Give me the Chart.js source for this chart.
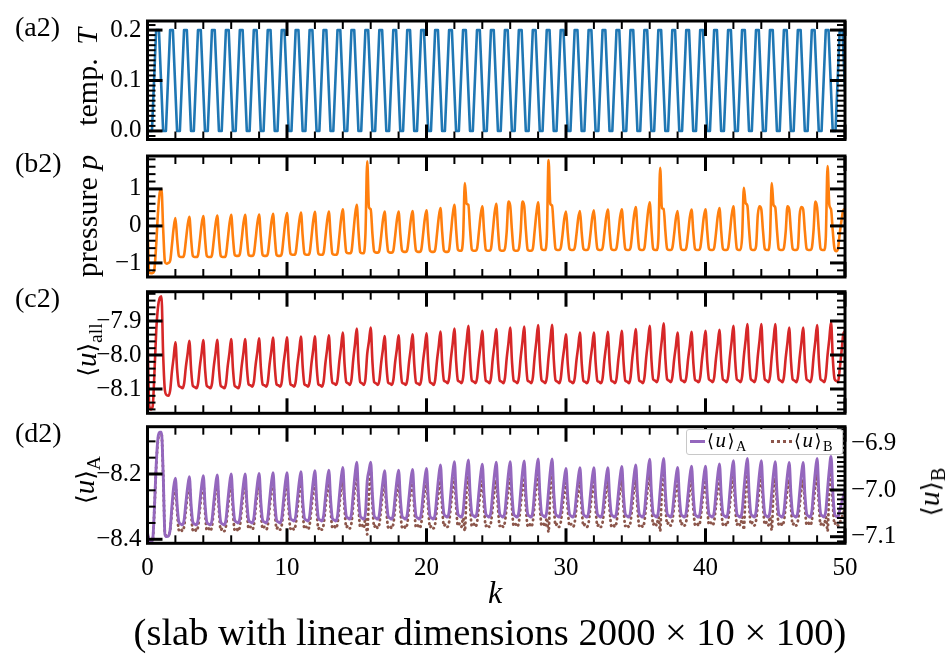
<!DOCTYPE html>
<html><head><meta charset="utf-8">
<script src="https://cdn.jsdelivr.net/npm/chart.js@4/dist/chart.umd.min.js"></script>
<style>
html,body{margin:0;padding:0;background:#fff;}
#wrap{position:relative;width:945px;height:654px;overflow:hidden;font-family:"Liberation Serif","DejaVu Serif",serif;color:#000;}
canvas{position:absolute;left:0;top:0;}
.lbl{position:absolute;white-space:nowrap;line-height:1.2;}
.c{transform:translate(-50%,-50%);}
.rot{transform:translate(-50%,-50%) rotate(-90deg);}
.sb{font-size:0.68em;position:relative;top:0.3em;}
.br{font-family:"DejaVu Serif",serif;font-size:0.85em;}
#leg{position:absolute;left:686px;top:429px;width:157px;height:26px;border:1px solid #c8c8c8;background:#fff;border-radius:3px;box-sizing:border-box;font-size:21px;}
#leg .s1{position:absolute;left:3px;top:10px;width:15px;border-top:3px solid #9467bd;}
#leg .s2{position:absolute;left:84px;top:10px;width:21px;border-top:3px dotted #8c564b;}
#leg .t{position:absolute;top:-2px;white-space:nowrap;line-height:1.2;letter-spacing:1.5px;}
</style></head><body>
<div id="wrap">
<canvas id="ca" width="945" height="654"></canvas>
<canvas id="cb" width="945" height="654"></canvas>
<canvas id="cc" width="945" height="654"></canvas>
<canvas id="cd" width="945" height="654"></canvas>
<div class="lbl" style="left:15px;top:10px;font-size:28px;">(a2)</div>
<div class="lbl" style="left:15px;top:146px;font-size:28px;">(b2)</div>
<div class="lbl" style="left:15px;top:281px;font-size:28px;">(c2)</div>
<div class="lbl" style="left:15px;top:416px;font-size:28px;">(d2)</div>
<div class="lbl rot" style="left:87px;top:77px;font-size:30px;">temp. &thinsp;<i>T</i></div>
<div class="lbl rot" style="left:87px;top:216px;font-size:30px;">pressure <i>p</i></div>
<div class="lbl rot" style="left:86px;top:350px;font-size:29px;"><span class="br">⟨</span><i>u</i><span class="br">⟩</span><span class="sb">all</span></div>
<div class="lbl rot" style="left:84px;top:480px;font-size:29px;"><span class="br">⟨</span><i>u</i><span class="br">⟩</span><span class="sb">A</span></div>
<div class="lbl rot" style="left:929px;top:492px;font-size:30px;"><span class="br">⟨</span><i>u</i><span class="br">⟩</span><span class="sb">B</span></div>
<div class="lbl c" style="left:495px;top:592px;font-size:32px;"><i>k</i></div>
<div id="cap" class="lbl c" style="left:490px;top:632px;font-size:38.5px;">(slab with linear dimensions 2000 × 10 × 100)</div>
<div id="leg">
  <div class="s1"></div><div class="t" style="left:20px;"><span class="br">⟨</span><i>u</i><span class="br">⟩</span><span class="sb">A</span></div>
  <div class="s2"></div><div class="t" style="left:107px;"><span class="br">⟨</span><i>u</i><span class="br">⟩</span><span class="sb">B</span></div>
</div>
</div>
<script>
// ---------------- data ----------------
const k = [
0,0.125,0.25,0.375,0.5,0.625,0.75,0.875,
1,1.125,1.25,1.375,1.5,1.625,1.75,1.875,
2,2.125,2.25,2.375,2.5,2.625,2.75,2.875,
3,3.125,3.25,3.375,3.5,3.625,3.75,3.875,
4,4.125,4.25,4.375,4.5,4.625,4.75,4.875,
5,5.125,5.25,5.375,5.5,5.625,5.75,5.875,
6,6.125,6.25,6.375,6.5,6.625,6.75,6.875,
7,7.125,7.25,7.375,7.5,7.625,7.75,7.875,
8,8.125,8.25,8.375,8.5,8.625,8.75,8.875,
9,9.125,9.25,9.375,9.5,9.625,9.75,9.875,
10,10.125,10.25,10.375,10.5,10.625,10.75,10.875,
11,11.125,11.25,11.375,11.5,11.625,11.75,11.875,
12,12.125,12.25,12.375,12.5,12.625,12.75,12.875,
13,13.125,13.25,13.375,13.5,13.625,13.75,13.875,
14,14.125,14.25,14.375,14.5,14.625,14.75,14.875,
15,15.125,15.25,15.375,15.5,15.625,15.75,15.875,
16,16.125,16.25,16.375,16.5,16.625,16.75,16.875,
17,17.125,17.25,17.375,17.5,17.625,17.75,17.875,
18,18.125,18.25,18.375,18.5,18.625,18.75,18.875,
19,19.125,19.25,19.375,19.5,19.625,19.75,19.875,
20,20.125,20.25,20.375,20.5,20.625,20.75,20.875,
21,21.125,21.25,21.375,21.5,21.625,21.75,21.875,
22,22.125,22.25,22.375,22.5,22.625,22.75,22.875,
23,23.125,23.25,23.375,23.5,23.625,23.75,23.875,
24,24.125,24.25,24.375,24.5,24.625,24.75,24.875,
25,25.125,25.25,25.375,25.5,25.625,25.75,25.875,
26,26.125,26.25,26.375,26.5,26.625,26.75,26.875,
27,27.125,27.25,27.375,27.5,27.625,27.75,27.875,
28,28.125,28.25,28.375,28.5,28.625,28.75,28.875,
29,29.125,29.25,29.375,29.5,29.625,29.75,29.875,
30,30.125,30.25,30.375,30.5,30.625,30.75,30.875,
31,31.125,31.25,31.375,31.5,31.625,31.75,31.875,
32,32.125,32.25,32.375,32.5,32.625,32.75,32.875,
33,33.125,33.25,33.375,33.5,33.625,33.75,33.875,
34,34.125,34.25,34.375,34.5,34.625,34.75,34.875,
35,35.125,35.25,35.375,35.5,35.625,35.75,35.875,
36,36.125,36.25,36.375,36.5,36.625,36.75,36.875,
37,37.125,37.25,37.375,37.5,37.625,37.75,37.875,
38,38.125,38.25,38.375,38.5,38.625,38.75,38.875,
39,39.125,39.25,39.375,39.5,39.625,39.75,39.875,
40,40.125,40.25,40.375,40.5,40.625,40.75,40.875,
41,41.125,41.25,41.375,41.5,41.625,41.75,41.875,
42,42.125,42.25,42.375,42.5,42.625,42.75,42.875,
43,43.125,43.25,43.375,43.5,43.625,43.75,43.875,
44,44.125,44.25,44.375,44.5,44.625,44.75,44.875,
45,45.125,45.25,45.375,45.5,45.625,45.75,45.875,
46,46.125,46.25,46.375,46.5,46.625,46.75,46.875,
47,47.125,47.25,47.375,47.5,47.625,47.75,47.875,
48,48.125,48.25,48.375,48.5,48.625,48.75,48.875,
49,49.125,49.25,49.375,49.5,49.625,49.75,49.875,
50];

// temperature corners (k, T)
const kT = [0,
0.12,0.32,0.62,0.82, 1.12,1.32,1.62,1.82, 2.12,2.32,2.62,2.82, 3.12,3.32,3.62,3.82, 4.12,4.32,4.62,4.82,
5.12,5.32,5.62,5.82, 6.12,6.32,6.62,6.82, 7.12,7.32,7.62,7.82, 8.12,8.32,8.62,8.82, 9.12,9.32,9.62,9.82,
10.12,10.32,10.62,10.82, 11.12,11.32,11.62,11.82, 12.12,12.32,12.62,12.82, 13.12,13.32,13.62,13.82, 14.12,14.32,14.62,14.82,
15.12,15.32,15.62,15.82, 16.12,16.32,16.62,16.82, 17.12,17.32,17.62,17.82, 18.12,18.32,18.62,18.82, 19.12,19.32,19.62,19.82,
20.12,20.32,20.62,20.82, 21.12,21.32,21.62,21.82, 22.12,22.32,22.62,22.82, 23.12,23.32,23.62,23.82, 24.12,24.32,24.62,24.82,
25.12,25.32,25.62,25.82, 26.12,26.32,26.62,26.82, 27.12,27.32,27.62,27.82, 28.12,28.32,28.62,28.82, 29.12,29.32,29.62,29.82,
30.12,30.32,30.62,30.82, 31.12,31.32,31.62,31.82, 32.12,32.32,32.62,32.82, 33.12,33.32,33.62,33.82, 34.12,34.32,34.62,34.82,
35.12,35.32,35.62,35.82, 36.12,36.32,36.62,36.82, 37.12,37.32,37.62,37.82, 38.12,38.32,38.62,38.82, 39.12,39.32,39.62,39.82,
40.12,40.32,40.62,40.82, 41.12,41.32,41.62,41.82, 42.12,42.32,42.62,42.82, 43.12,43.32,43.62,43.82, 44.12,44.32,44.62,44.82,
45.12,45.32,45.62,45.82, 46.12,46.32,46.62,46.82, 47.12,47.32,47.62,47.82, 48.12,48.32,48.62,48.82, 49.12,49.32,49.62,49.82,
50];
const T = [0,
0,0,0.2,0.2, 0,0,0.2,0.2, 0,0,0.2,0.2, 0,0,0.2,0.2, 0,0,0.2,0.2,
0,0,0.2,0.2, 0,0,0.2,0.2, 0,0,0.2,0.2, 0,0,0.2,0.2, 0,0,0.2,0.2,
0,0,0.2,0.2, 0,0,0.2,0.2, 0,0,0.2,0.2, 0,0,0.2,0.2, 0,0,0.2,0.2,
0,0,0.2,0.2, 0,0,0.2,0.2, 0,0,0.2,0.2, 0,0,0.2,0.2, 0,0,0.2,0.2,
0,0,0.2,0.2, 0,0,0.2,0.2, 0,0,0.2,0.2, 0,0,0.2,0.2, 0,0,0.2,0.2,
0,0,0.2,0.2, 0,0,0.2,0.2, 0,0,0.2,0.2, 0,0,0.2,0.2, 0,0,0.2,0.2,
0,0,0.2,0.2, 0,0,0.2,0.2, 0,0,0.2,0.2, 0,0,0.2,0.2, 0,0,0.2,0.2,
0,0,0.2,0.2, 0,0,0.2,0.2, 0,0,0.2,0.2, 0,0,0.2,0.2, 0,0,0.2,0.2,
0,0,0.2,0.2, 0,0,0.2,0.2, 0,0,0.2,0.2, 0,0,0.2,0.2, 0,0,0.2,0.2,
0,0,0.2,0.2, 0,0,0.2,0.2, 0,0,0.2,0.2, 0,0,0.2,0.2, 0,0,0.2,0.2,
0.08];

const p = [
0.0,-1.26,-1.28,-1.27,-1.15,-0.5,0.35,0.9,
1.0,-0.1,-0.97,-1.02,-1.0,-0.94,-0.52,-0.06,
0.21,-0.37,-0.81,-0.84,-0.84,-0.78,-0.40,0.01,
0.25,-0.35,-0.81,-0.84,-0.84,-0.78,-0.40,0.03,
0.27,-0.34,-0.81,-0.84,-0.84,-0.78,-0.39,0.03,
0.28,-0.34,-0.81,-0.84,-0.84,-0.78,-0.38,0.05,
0.30,-0.31,-0.78,-0.81,-0.81,-0.75,-0.37,0.06,
0.30,-0.31,-0.78,-0.81,-0.81,-0.75,-0.36,0.07,
0.31,-0.30,-0.78,-0.81,-0.81,-0.75,-0.35,0.08,
0.33,-0.29,-0.78,-0.81,-0.81,-0.75,-0.34,0.10,
0.35,-0.27,-0.75,-0.78,-0.78,-0.72,-0.32,0.11,
0.36,-0.27,-0.75,-0.78,-0.78,-0.72,-0.32,0.12,
0.38,-0.26,-0.75,-0.78,-0.78,-0.72,-0.31,0.13,
0.39,-0.25,-0.75,-0.78,-0.78,-0.72,-0.29,0.18,
0.45,-0.20,-0.71,-0.74,-0.74,-0.68,-0.22,0.28,
0.57,-0.15,-0.71,-0.74,-0.74,-0.20,1.75,0.50,
0.45,-0.22,-0.69,-0.72,-0.72,-0.66,-0.28,0.15,
0.39,-0.24,-0.69,-0.72,-0.72,-0.66,-0.28,0.15,
0.39,-0.23,-0.67,-0.70,-0.70,-0.64,-0.26,0.16,
0.40,-0.22,-0.67,-0.70,-0.70,-0.64,-0.25,0.18,
0.42,-0.21,-0.67,-0.70,-0.70,-0.64,-0.23,0.22,
0.48,-0.17,-0.67,-0.70,-0.70,-0.64,-0.19,0.29,
0.57,-0.10,-0.64,-0.67,-0.67,-0.30,1.16,0.60,
0.57,-0.10,-0.64,-0.67,-0.67,-0.61,-0.19,0.27,
0.53,-0.13,-0.64,-0.67,-0.67,-0.61,-0.16,0.33,
0.60,-0.09,-0.64,-0.67,-0.67,-0.61,-0.15,0.66,
0.55,-0.12,-0.64,-0.67,-0.67,-0.61,-0.15,0.66,
0.55,-0.12,-0.64,-0.67,-0.67,-0.61,-0.15,0.33,
0.64,-0.07,-0.62,-0.65,-0.65,-0.30,1.78,0.60,
0.55,-0.07,-0.62,-0.65,-0.65,-0.59,-0.24,0.19,
0.39,-0.18,-0.62,-0.65,-0.65,-0.59,-0.23,0.20,
0.40,-0.18,-0.62,-0.65,-0.65,-0.59,-0.22,0.21,
0.42,-0.17,-0.62,-0.65,-0.65,-0.59,-0.21,0.22,
0.44,-0.16,-0.62,-0.65,-0.65,-0.59,-0.21,0.23,
0.45,-0.15,-0.62,-0.65,-0.65,-0.59,-0.18,0.27,
0.51,-0.12,-0.62,-0.65,-0.65,-0.59,-0.13,0.36,
0.64,-0.07,-0.62,-0.65,-0.65,-0.30,1.57,0.48,
0.46,-0.15,-0.62,-0.65,-0.65,-0.59,-0.23,0.20,
0.40,-0.18,-0.62,-0.65,-0.65,-0.59,-0.21,0.23,
0.44,-0.16,-0.62,-0.65,-0.65,-0.59,-0.21,0.23,
0.45,-0.15,-0.62,-0.65,-0.65,-0.59,-0.20,0.25,
0.48,-0.14,-0.62,-0.65,-0.65,-0.59,-0.18,0.29,
0.53,-0.11,-0.62,-0.65,-0.65,-0.30,1.03,0.62,
0.55,-0.10,-0.62,-0.65,-0.65,-0.55,0.30,0.53,
0.45,-0.15,-0.62,-0.65,-0.65,-0.30,1.16,0.57,
0.50,-0.12,-0.62,-0.65,-0.65,-0.59,-0.15,0.53,
0.45,-0.15,-0.62,-0.65,-0.65,-0.59,0.30,0.51,
0.45,-0.15,-0.62,-0.65,-0.65,-0.59,-0.10,0.66,
0.50,-0.12,-0.62,-0.65,-0.65,-0.30,1.62,0.57,
0.45,-0.15,-0.62,-0.68,-0.60,-0.20,0.15,0.42,
0.45];

const uAll = [
-7.93,-8.15,-8.16,-8.15,-8.05,-7.93,-7.86,-7.832,
-7.827,-8.003,-8.105,-8.118,-8.12,-8.104,-8.049,-8.007,
-7.963,-8.044,-8.091,-8.094,-8.098,-8.084,-8.035,-7.997,
-7.958,-8.042,-8.091,-8.094,-8.098,-8.084,-8.034,-7.996,
-7.956,-8.041,-8.091,-8.094,-8.098,-8.084,-8.034,-7.995,
-7.955,-8.041,-8.091,-8.094,-8.098,-8.084,-8.033,-7.994,
-7.953,-8.04,-8.091,-8.094,-8.098,-8.083,-8.033,-7.994,
-7.953,-8.037,-8.086,-8.089,-8.093,-8.079,-8.029,-7.991,
-7.951,-8.036,-8.086,-8.089,-8.093,-8.079,-8.028,-7.989,
-7.949,-8.035,-8.086,-8.089,-8.093,-8.079,-8.027,-7.988,
-7.948,-8.035,-8.086,-8.089,-8.093,-8.078,-8.027,-7.987,
-7.946,-8.034,-8.086,-8.089,-8.093,-8.078,-8.026,-7.986,
-7.945,-8.034,-8.086,-8.089,-8.093,-8.078,-8.025,-7.984,
-7.942,-8.03,-8.081,-8.084,-8.088,-8.073,-8.019,-7.977,
-7.934,-8.026,-8.08,-8.083,-8.088,-8.071,-8.013,-7.968,
-7.922,-8.022,-8.08,-8.083,-8.088,-8.07,-7.997,-7.96,
-7.919,-8.02,-8.08,-8.083,-8.088,-8.074,-8.023,-7.984,
-7.944,-8.03,-8.081,-8.084,-8.088,-8.073,-8.022,-7.983,
-7.942,-8.03,-8.081,-8.084,-8.088,-8.073,-8.021,-7.981,
-7.939,-8.028,-8.081,-8.084,-8.088,-8.073,-8.02,-7.979,
-7.936,-8.027,-8.08,-8.083,-8.088,-8.072,-8.017,-7.975,
-7.931,-8.022,-8.075,-8.078,-8.083,-8.067,-8.011,-7.967,
-7.922,-8.019,-8.075,-8.078,-8.083,-8.066,-8.007,-7.961,
-7.914,-8.015,-8.075,-8.078,-8.083,-8.068,-8.014,-7.972,
-7.929,-8.021,-8.075,-8.078,-8.083,-8.067,-8.011,-7.969,
-7.924,-8.019,-8.075,-8.078,-8.083,-8.067,-8.009,-7.965,
-7.919,-8.017,-8.075,-8.078,-8.083,-8.066,-8.008,-7.963,
-7.916,-8.016,-8.075,-8.078,-8.083,-8.066,-8.006,-7.96,
-7.912,-8.014,-8.074,-8.078,-8.083,-8.066,-8.006,-7.959,
-7.911,-8.014,-8.074,-8.078,-8.083,-8.069,-8.018,-7.979,
-7.939,-8.025,-8.076,-8.079,-8.083,-8.068,-8.016,-7.976,
-7.934,-8.023,-8.076,-8.079,-8.083,-8.068,-8.016,-7.976,
-7.934,-8.023,-8.076,-8.079,-8.083,-8.068,-8.015,-7.974,
-7.932,-8.023,-8.075,-8.078,-8.083,-8.068,-8.014,-7.972,
-7.929,-8.021,-8.075,-8.078,-8.083,-8.067,-8.011,-7.969,
-7.924,-8.019,-8.075,-8.078,-8.083,-8.066,-8.007,-7.961,
-7.914,-8.014,-8.072,-8.075,-8.08,-8.063,-8.002,-7.955,
-7.907,-8.011,-8.071,-8.075,-8.08,-8.065,-8.014,-7.975,
-7.934,-8.022,-8.073,-8.076,-8.08,-8.065,-8.013,-7.973,
-7.932,-8.021,-8.073,-8.076,-8.08,-8.065,-8.012,-7.971,
-7.929,-8.02,-8.072,-8.075,-8.08,-8.065,-8.011,-7.969,
-7.926,-8.018,-8.072,-8.075,-8.08,-8.063,-8.005,-7.96,
-7.914,-8.014,-8.072,-8.075,-8.08,-8.063,-8.003,-7.957,
-7.909,-8.012,-8.071,-8.075,-8.08,-8.063,-8.003,-7.957,
-7.909,-8.012,-8.071,-8.075,-8.08,-8.063,-8.003,-7.957,
-7.909,-8.012,-8.071,-8.075,-8.08,-8.064,-8.008,-7.964,
-7.919,-8.016,-8.072,-8.075,-8.08,-8.064,-8.008,-7.964,
-7.919,-8.016,-8.072,-8.075,-8.08,-8.063,-8.004,-7.959,
-7.912,-8.013,-8.072,-8.075,-8.08,-8.062,-8.0,-7.953,
-7.903,-8.01,-8.07,-8.076,-8.08,-8.04,-7.99,-7.94,
-7.93];

const uA = [
-8.38,-8.405,-8.408,-8.4,-8.3,-8.17,-8.09,-8.072,
-8.072,-8.2,-8.385,-8.392,-8.39,-8.37,-8.3,-8.24,
-8.213,-8.296,-8.347,-8.353,-8.356,-8.341,-8.289,-8.241,
-8.208,-8.294,-8.347,-8.353,-8.356,-8.341,-8.288,-8.238,
-8.205,-8.293,-8.347,-8.353,-8.356,-8.341,-8.287,-8.237,
-8.203,-8.292,-8.347,-8.353,-8.356,-8.34,-8.286,-8.234,
-8.2,-8.287,-8.341,-8.347,-8.35,-8.335,-8.283,-8.233,
-8.2,-8.287,-8.341,-8.347,-8.35,-8.335,-8.282,-8.231,
-8.198,-8.286,-8.341,-8.347,-8.35,-8.335,-8.281,-8.23,
-8.196,-8.285,-8.341,-8.347,-8.35,-8.335,-8.281,-8.23,
-8.196,-8.282,-8.335,-8.341,-8.344,-8.329,-8.276,-8.226,
-8.193,-8.281,-8.335,-8.341,-8.344,-8.329,-8.275,-8.224,
-8.19,-8.279,-8.335,-8.341,-8.344,-8.328,-8.274,-8.222,
-8.188,-8.278,-8.335,-8.341,-8.344,-8.328,-8.27,-8.216,
-8.18,-8.272,-8.329,-8.335,-8.338,-8.321,-8.26,-8.202,
-8.164,-8.265,-8.328,-8.335,-8.338,-8.32,-8.222,-8.19,
-8.164,-8.265,-8.328,-8.335,-8.338,-8.323,-8.271,-8.223,
-8.19,-8.276,-8.329,-8.335,-8.338,-8.323,-8.271,-8.221,
-8.188,-8.275,-8.329,-8.335,-8.338,-8.323,-8.27,-8.219,
-8.186,-8.274,-8.329,-8.335,-8.338,-8.322,-8.268,-8.217,
-8.183,-8.273,-8.329,-8.335,-8.338,-8.321,-8.263,-8.209,
-8.172,-8.265,-8.322,-8.329,-8.332,-8.315,-8.256,-8.199,
-8.162,-8.261,-8.322,-8.329,-8.332,-8.315,-8.253,-8.196,
-8.157,-8.258,-8.321,-8.328,-8.332,-8.316,-8.259,-8.206,
-8.17,-8.264,-8.322,-8.329,-8.332,-8.315,-8.256,-8.201,
-8.164,-8.261,-8.322,-8.329,-8.332,-8.315,-8.256,-8.199,
-8.162,-8.261,-8.322,-8.329,-8.332,-8.315,-8.255,-8.198,
-8.16,-8.26,-8.322,-8.329,-8.332,-8.314,-8.252,-8.193,
-8.154,-8.257,-8.321,-8.328,-8.332,-8.314,-8.252,-8.193,
-8.154,-8.257,-8.321,-8.328,-8.332,-8.317,-8.265,-8.216,
-8.183,-8.269,-8.323,-8.329,-8.332,-8.317,-8.264,-8.214,
-8.181,-8.269,-8.323,-8.329,-8.332,-8.317,-8.264,-8.214,
-8.181,-8.269,-8.323,-8.329,-8.332,-8.317,-8.264,-8.214,
-8.181,-8.269,-8.323,-8.329,-8.332,-8.317,-8.262,-8.211,
-8.177,-8.267,-8.323,-8.329,-8.332,-8.316,-8.26,-8.207,
-8.172,-8.265,-8.322,-8.329,-8.332,-8.314,-8.252,-8.194,
-8.155,-8.258,-8.321,-8.328,-8.332,-8.314,-8.251,-8.192,
-8.152,-8.256,-8.321,-8.328,-8.332,-8.317,-8.264,-8.213,
-8.18,-8.268,-8.323,-8.329,-8.332,-8.316,-8.262,-8.21,
-8.176,-8.266,-8.323,-8.329,-8.332,-8.316,-8.262,-8.21,
-8.176,-8.266,-8.323,-8.329,-8.332,-8.316,-8.259,-8.205,
-8.169,-8.264,-8.322,-8.329,-8.332,-8.315,-8.254,-8.197,
-8.159,-8.259,-8.322,-8.329,-8.332,-8.314,-8.251,-8.192,
-8.152,-8.256,-8.321,-8.328,-8.332,-8.315,-8.254,-8.197,
-8.159,-8.259,-8.322,-8.329,-8.332,-8.315,-8.256,-8.199,
-8.162,-8.261,-8.322,-8.329,-8.332,-8.315,-8.257,-8.202,
-8.165,-8.262,-8.322,-8.329,-8.332,-8.315,-8.257,-8.202,
-8.165,-8.262,-8.322,-8.329,-8.332,-8.314,-8.251,-8.192,
-8.152,-8.256,-8.321,-8.328,-8.332,-8.313,-8.248,-8.187,
-8.146,-8.254,-8.321,-8.33,-8.332,-8.31,-8.29,-8.27,
-8.25];

const uB = [
-7.09,-7.108,-7.11,-7.105,-7.04,-6.95,-6.895,-6.878,
-6.877,-6.97,-7.092,-7.098,-7.097,-7.085,-7.048,-7.012,
-6.988,-7.047,-7.086,-7.082,-7.088,-7.078,-7.044,-7.01,
-6.987,-7.047,-7.086,-7.082,-7.088,-7.078,-7.043,-7.009,
-6.986,-7.046,-7.086,-7.082,-7.088,-7.077,-7.043,-7.008,
-6.985,-7.046,-7.086,-7.082,-7.088,-7.077,-7.043,-7.008,
-6.985,-7.046,-7.086,-7.082,-7.088,-7.077,-7.042,-7.007,
-6.984,-7.044,-7.083,-7.079,-7.085,-7.075,-7.041,-7.007,
-6.984,-7.044,-7.083,-7.079,-7.085,-7.075,-7.04,-7.006,
-6.983,-7.043,-7.083,-7.079,-7.085,-7.075,-7.04,-7.006,
-6.983,-7.043,-7.083,-7.079,-7.085,-7.074,-7.04,-7.005,
-6.982,-7.043,-7.083,-7.079,-7.085,-7.074,-7.04,-7.005,
-6.982,-7.043,-7.083,-7.079,-7.085,-7.074,-7.039,-7.004,
-6.981,-7.041,-7.08,-7.076,-7.082,-7.071,-7.036,-7.001,
-6.978,-7.039,-7.08,-7.076,-7.082,-7.07,-7.031,-6.993,
-6.967,-7.035,-7.079,-7.075,-7.082,-7.06,-7.095,-7.01,
-6.96,-7.032,-7.079,-7.074,-7.082,-7.072,-7.038,-7.004,
-6.981,-7.041,-7.08,-7.076,-7.082,-7.072,-7.038,-7.004,
-6.981,-7.041,-7.08,-7.076,-7.082,-7.072,-7.037,-7.003,
-6.98,-7.04,-7.08,-7.076,-7.082,-7.071,-7.037,-7.002,
-6.979,-7.04,-7.08,-7.076,-7.082,-7.072,-7.037,-7.003,
-6.98,-7.039,-7.077,-7.073,-7.079,-7.068,-7.033,-6.998,
-6.974,-7.036,-7.077,-7.072,-7.079,-7.06,-7.088,-7.0,
-6.971,-7.035,-7.077,-7.072,-7.079,-7.069,-7.036,-7.003,
-6.981,-7.039,-7.077,-7.073,-7.079,-7.069,-7.035,-7.001,
-6.978,-7.038,-7.077,-7.073,-7.079,-7.068,-7.034,-6.999,
-6.976,-7.037,-7.077,-7.073,-7.079,-7.068,-7.033,-6.998,
-6.974,-7.036,-7.077,-7.072,-7.079,-7.067,-7.03,-6.992,
-6.967,-7.033,-7.076,-7.072,-7.079,-7.06,-7.09,-7.0,
-6.963,-7.031,-7.076,-7.072,-7.079,-7.069,-7.038,-7.006,
-6.985,-7.041,-7.077,-7.073,-7.079,-7.069,-7.037,-7.005,
-6.983,-7.04,-7.077,-7.073,-7.079,-7.069,-7.037,-7.005,
-6.983,-7.04,-7.077,-7.073,-7.079,-7.069,-7.036,-7.004,
-6.982,-7.04,-7.077,-7.073,-7.079,-7.069,-7.035,-7.001,
-6.979,-7.038,-7.077,-7.073,-7.079,-7.069,-7.035,-7.0,
-6.978,-7.038,-7.077,-7.073,-7.079,-7.067,-7.03,-6.992,
-6.967,-7.031,-7.074,-7.069,-7.076,-7.058,-7.088,-6.998,
-6.963,-7.03,-7.073,-7.069,-7.076,-7.066,-7.034,-7.002,
-6.981,-7.037,-7.074,-7.07,-7.076,-7.066,-7.033,-7.001,
-6.979,-7.037,-7.074,-7.07,-7.076,-7.066,-7.033,-7.001,
-6.979,-7.037,-7.074,-7.07,-7.076,-7.066,-7.033,-6.999,
-6.977,-7.036,-7.074,-7.07,-7.076,-7.065,-7.03,-6.995,
-6.971,-7.033,-7.074,-7.069,-7.076,-7.058,-7.085,-6.998,
-6.967,-7.031,-7.074,-7.069,-7.076,-7.065,-7.03,-6.995,
-6.971,-7.033,-7.074,-7.069,-7.076,-7.058,-7.086,-7.0,
-6.974,-7.034,-7.074,-7.07,-7.076,-7.066,-7.033,-6.999,
-6.977,-7.036,-7.074,-7.07,-7.076,-7.066,-7.033,-7.0,
-6.978,-7.036,-7.074,-7.07,-7.076,-7.065,-7.028,-6.991,
-6.967,-7.031,-7.074,-7.069,-7.076,-7.058,-7.088,-6.998,
-6.963,-7.03,-7.073,-7.069,-7.076,-7.07,-7.06,-7.05,
-7.04];

// tick values and labels
const kTicks = [0,10,20,30,40,50];
const kTickLabels = ['0','10','20','30','40','50'];
const tTicks = [0,0.1,0.2];           const tTickLabels = ['0.0','0.1','0.2'];
const pTicks = [-1,0,1];              const pTickLabels = ['\u22121','0','1'];
const uAllTicks = [-8.1,-8.0,-7.9];   const uAllTickLabels = ['\u22128.1','\u22128.0','\u22127.9'];
const uATicks = [-8.4,-8.2];          const uATickLabels = ['\u22128.4','\u22128.2'];
const uBTicks = [-7.1,-7.0,-6.9];     const uBTickLabels = ['\u22127.1','\u22127.0','\u22126.9'];

// ---------------- styling / layout ----------------
const FONT = '"Liberation Serif", "DejaVu Serif", serif';
const W = 945, H = 654, LEFT = 147.5, RIGHT = 845;
const C = {T:'#1f77b4', p:'#ff7f0e', all:'#d62728', A:'#9467bd', B:'#8c564b'};

const frameTicks = {
  id: 'frameTicks',
  afterDatasetsDraw(chart, args, o) {
    const ctx = chart.ctx, a = chart.chartArea;
    ctx.save();
    ctx.strokeStyle = '#000';
    ctx.lineCap = 'butt';
    const seg = (x1,y1,x2,y2,w) => { ctx.lineWidth = w; ctx.beginPath(); ctx.moveTo(x1,y1); ctx.lineTo(x2,y2); ctx.stroke(); };
    const near = (v, arr, step) => arr.some(m => Math.abs(m - v) < step * 0.01);
    const xs = chart.scales.x;
    const xMinor = o.xMinor;
    for (let i = Math.ceil(xs.min / xMinor); i * xMinor <= xs.max + 1e-9; i++) {
      const v = i * xMinor;
      const major = near(v, o.xMajor, xMinor);
      const px = xs.getPixelForValue(v);
      const len = major ? 15 : 8, w = major ? 3 : 2;
      seg(px, a.top, px, a.top + len, w);
      seg(px, a.bottom, px, a.bottom - len, w);
    }
    const ySide = (spec, side) => {
      const s = chart.scales[spec.id];
      for (let i = Math.ceil(s.min / spec.minor - 1e-9); i * spec.minor <= s.max + 1e-9; i++) {
        const v = i * spec.minor;
        const major = near(v, spec.major, spec.minor);
        const py = s.getPixelForValue(v);
        if (py < a.top + 1 || py > a.bottom - 1) continue;
        const len = major ? 15 : 8, w = major ? 3 : 2;
        if (side === 'left') seg(a.left, py, a.left + len, py, w);
        else seg(a.right, py, a.right - len, py, w);
      }
    };
    ySide(o.left, 'left');
    ySide(o.right, 'right');
    ctx.lineWidth = 3;
    ctx.strokeRect(a.left, a.top, a.right - a.left, a.bottom - a.top);
    ctx.restore();
  }
};

function yScale(min, max, ticks, labels, position, width) {
  return {
    type: 'linear', position, min, max,
    afterFit: s => { s.width = width; },
    afterBuildTicks: s => { s.ticks = ticks.map(v => ({value: v})); },
    grid: {display: false, drawTicks: false},
    border: {display: false},
    ticks: {
      color: '#000', padding: 6, font: {family: FONT, size: 25},
      callback: (v, i) => labels[i]
    }
  };
}

function xScale(show) {
  const s = {
    type: 'linear', min: 0, max: 50, display: show,
    afterBuildTicks: sc => { sc.ticks = kTicks.map(v => ({value: v})); },
    grid: {display: false, drawTicks: false},
    border: {display: false},
    ticks: {color: '#000', padding: 10, maxRotation: 0, font: {family: FONT, size: 25},
      callback: (v, i) => kTickLabels[i]}
  };
  if (show) s.afterFit = sc => { sc.height = H - 543.3; };
  return s;
}

function line(xs, ys, color, extra) {
  return Object.assign({
    data: xs.map((x, i) => ({x, y: ys[i]})),
    borderColor: color, borderWidth: 2.6, pointRadius: 0, fill: false,
    cubicInterpolationMode: 'monotone', borderJoinStyle: 'round'
  }, extra || {});
}

function makeChart(id, top, bottom, datasets, scales, tickOpts, padRight) {
  new Chart(document.getElementById(id), {
    type: 'line',
    data: {datasets},
    options: {
      responsive: false, animation: false, parsing: false, normalized: true,
      layout: {padding: {top, bottom: bottom === null ? 0 : H - bottom, left: 0, right: padRight}},
      plugins: {legend: {display: false}, tooltip: {enabled: false}, frameTicks: tickOpts},
      scales
    },
    plugins: [frameTicks]
  });
}

// (a2) temperature
makeChart('ca', 21, 139.5,
  [line(kT, T, C.T, {cubicInterpolationMode: 'default', tension: 0})],
  {x: xScale(false), y: yScale(-0.017, 0.218, tTicks, tTickLabels, 'left', LEFT)},
  {xMajor: kTicks, xMinor: 2,
   left: {id: 'y', major: tTicks, minor: 0.01}, right: {id: 'y', major: tTicks, minor: 0.01}}, W - RIGHT);

// (b2) pressure
makeChart('cb', 156, 277,
  [line(k, p, C.p)],
  {x: xScale(false), y: yScale(-1.38, 1.89, pTicks, pTickLabels, 'left', LEFT)},
  {xMajor: kTicks, xMinor: 2,
   left: {id: 'y', major: pTicks, minor: 0.2}, right: {id: 'y', major: pTicks, minor: 0.2}}, W - RIGHT);

// (c2) <u>_all
makeChart('cc', 291.7, 413.3,
  [line(k, uAll, C.all)],
  {x: xScale(false), y: yScale(-8.1715, -7.8138, uAllTicks, uAllTickLabels, 'left', LEFT)},
  {xMajor: kTicks, xMinor: 2,
   left: {id: 'y', major: uAllTicks, minor: 0.02}, right: {id: 'y', major: uAllTicks, minor: 0.02}}, W - RIGHT);

// (d2) <u>_A and <u>_B
makeChart('cd', 426.7, null,
  [line(k, uA, C.A, {yAxisID: 'y', borderWidth: 2.9}),
   line(k, uB, C.B, {yAxisID: 'yB', borderWidth: 2.8, borderDash: [0.6, 4.4], borderCapStyle: 'round'})],
  {x: xScale(true),
   y: yScale(-8.4123, -8.0551, uATicks, uATickLabels, 'left', LEFT),
   yB: yScale(-7.1141, -6.8645, uBTicks, uBTickLabels, 'right', W - RIGHT)},
  {xMajor: kTicks, xMinor: 2,
   left: {id: 'y', major: uATicks, minor: 0.05}, right: {id: 'yB', major: uBTicks, minor: 0.01}}, 0);
</script>
</body></html>
